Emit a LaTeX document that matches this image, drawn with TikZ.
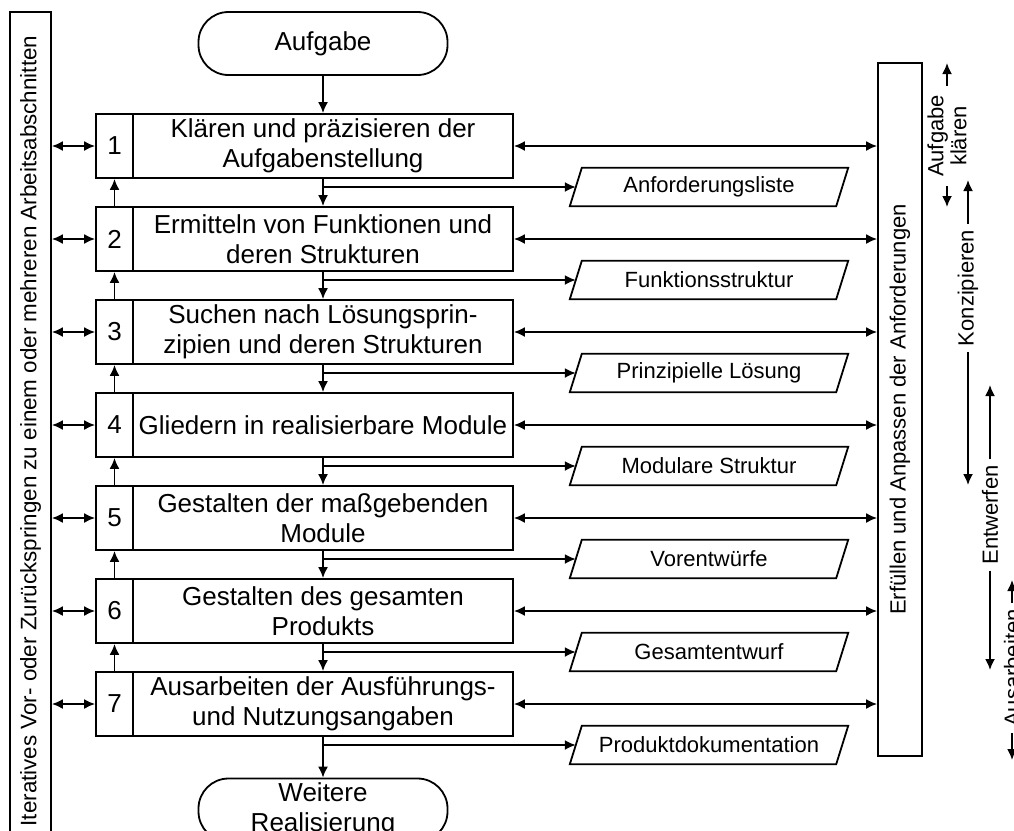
\documentclass[tikz,border=0pt]{standalone}
\usepackage{fontspec}
\setmainfont{Liberation Sans}
\usetikzlibrary{arrows.meta,calc}

\tikzset{
  ln/.style={line width=1.8pt},
  arr/.style={ln, -{Latex[length=11pt,width=10pt]}},
  darr/.style={ln, {Latex[length=11pt,width=10pt]}-{Latex[length=11pt,width=10pt]}},
  numcell/.style={draw, ln, minimum width=37pt, minimum height=64pt, inner sep=0pt,
    font=\fontsize{26}{30}\selectfont},
  txtcell/.style={draw, ln, minimum width=380pt, minimum height=64pt, inner sep=0pt,
    align=center, font=\fontsize{26}{30}\selectfont},
  term/.style={draw, ln, rounded corners=30pt, minimum width=249pt, minimum height=63pt,
    inner sep=0pt, align=center, font=\fontsize{26}{30}\selectfont},
  docbox/.style={minimum width=266pt, minimum height=38pt, inner sep=0pt,
    font=\fontsize{22}{26}\selectfont},
  phase/.style={rotate=90, font=\fontsize{22}{23}\selectfont, inner xsep=6pt,
    inner ysep=0pt, align=center},
  tallbox/.style={draw, ln, rotate=90, inner sep=0pt, font=\fontsize{22}{26}\selectfont},
}

\begin{document}
\begin{tikzpicture}[x=1pt,y=-1pt]
  \useasboundingbox (0,0) rectangle (1014,830);
  \clip (0,0) rectangle (1014,830);
  \fill[white] (0,0) rectangle (1014,830);

  % side frames
  \node[tallbox, minimum width=838pt, minimum height=41pt] (iter) at (30.5,431)
    {\fontsize{22.4}{26}\selectfont Iteratives Vor- oder Zurückspringen zu einem oder mehreren Arbeitsabschnitten};
  \node[tallbox, minimum width=693pt, minimum height=44pt] (req) at (900,409.5)
    {Erfüllen und Anpassen der Anforderungen};

  % start and end terminals
  \node[term] (start) at (323,43.5) {Aufgabe};
  \node[term] (finish) at (323,810) {Weitere\\Realisierung};

  % working steps with their results
  \foreach \k/\txt/\doc in {
      1/{Klären und präzisieren der\\Aufgabenstellung}/Anforderungsliste,
      2/{Ermitteln von Funktionen und\\deren Strukturen}/Funktionsstruktur,
      3/{Suchen nach Lösungsprin-\\zipien und deren Strukturen}/{Prinzipielle Lösung},
      4/{Gliedern in realisierbare Module}/{Modulare Struktur},
      5/{Gestalten der maßgebenden\\Module}/Vorentwürfe,
      6/{Gestalten des gesamten\\Produkts}/Gesamtentwurf,
      7/{Ausarbeiten der Ausführungs-\\und Nutzungsangaben}/Produktdokumentation}{
    \pgfmathsetmacro{\cy}{146+93*(\k-1)}
    \pgfmathsetmacro{\oy}{\cy+41}
    \node[numcell] (n\k) at (114.5,\cy) {\k};
    \node[txtcell] (t\k) at (323,\cy) {\txt};
    \node[docbox] (d\k) at (709,\oy) {\doc};
    \draw[ln] ([xshift=-6pt]d\k.south west) -- ([xshift=6pt]d\k.north west)
      -- ([xshift=6pt]d\k.north east) -- ([xshift=-6pt]d\k.south east) -- cycle;
    \draw[arr] (t\k.south |- d\k.west) -- (d\k.west);
    \draw[darr] (iter.south |- n\k.west) -- (n\k.west);
    \draw[darr] (t\k.east) -- (req.north |- t\k.east);
  }

  % main flow downwards, return paths upwards
  \draw[arr] (start) -- (t1);
  \foreach \k [evaluate=\k as \j using int(\k+1)] in {1,...,6}{
    \draw[arr] (t\k) -- (t\j);
    \draw[arr] (n\j) -- (n\k);
  }
  \draw[arr] (t7) -- (finish);

  % phases
  \node[phase, inner xsep=9pt] (pa) at (947,136) {Aufgabe\\klären};
  \coordinate (pa1) at (947,63);  \coordinate (pa2) at (947,207);
  \draw[arr] (pa.east) -- (pa1);  \draw[arr] (pa.west) -- (pa2);

  \node[phase] (pk) at (968,288) {Konzipieren};
  \coordinate (pk1) at (968,180); \coordinate (pk2) at (968,485);
  \draw[arr] (pk.east) -- (pk1);  \draw[arr] (pk.west) -- (pk2);

  \node[phase] (pe) at (990,515) {Entwerfen};
  \coordinate (pe1) at (990,385); \coordinate (pe2) at (990,670);
  \draw[arr] (pe.east) -- (pe1);  \draw[arr] (pe.west) -- (pe2);

  \node[phase] (pw) at (1012,668) {Ausarbeiten};
  \coordinate (pw1) at (1012,580); \coordinate (pw2) at (1012,760);
  \draw[arr] (pw.east) -- (pw1);  \draw[arr] (pw.west) -- (pw2);
\end{tikzpicture}
\end{document}
